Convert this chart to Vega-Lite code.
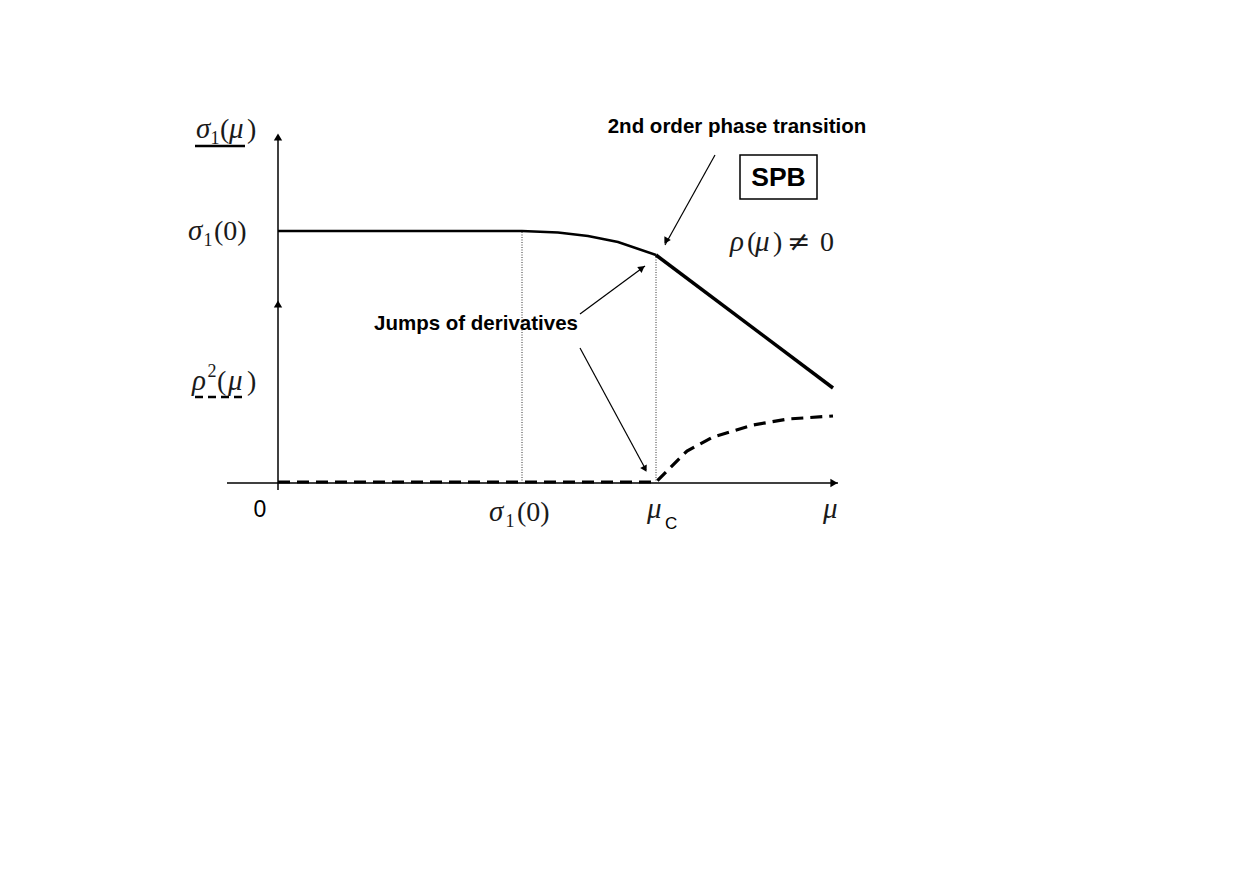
{
  "$schema": "https://vega.github.io/schema/vega-lite/v6.json",
  "width": 1246,
  "height": 881,
  "autosize": {"type": "fit", "contains": "padding"},
  "padding": 0,
  "background": "white",
  "config": {"view": {"stroke": null}},
  "datasets": {
    "axes": [
      {"x": -0.51, "x2": 5.6, "y": 0, "y2": 0},
      {"x": 0, "x2": 0, "y": -0.07, "y2": 3.47}
    ],
    "underline": [
      {"x": -0.83, "x2": -0.33, "y": 3.37, "kind": "solid"},
      {"x": -0.83, "x2": -0.33, "y": 0.86, "kind": "dashed"}
    ],
    "vlines": [
      {"x": 2.44, "y": 0, "y2": 2.52},
      {"x": 3.78, "y": 0, "y2": 2.28}
    ],
    "sigma": [
      {"mu": 0, "v": 2.52, "seg": "a"},
      {"mu": 2.44, "v": 2.52, "seg": "a"},
      {"mu": 2.8, "v": 2.505, "seg": "a"},
      {"mu": 3.1, "v": 2.47, "seg": "a"},
      {"mu": 3.4, "v": 2.41, "seg": "a"},
      {"mu": 3.78, "v": 2.28, "seg": "a"},
      {"mu": 3.78, "v": 2.28, "seg": "b"},
      {"mu": 5.55, "v": 0.95, "seg": "b"}
    ],
    "rho": [
      {"mu": 0, "v": 0.01},
      {"mu": 3.78, "v": 0.01},
      {"mu": 3.9, "v": 0.13},
      {"mu": 4.09, "v": 0.32},
      {"mu": 4.35, "v": 0.46},
      {"mu": 4.75, "v": 0.58},
      {"mu": 5.1, "v": 0.64},
      {"mu": 5.55, "v": 0.67}
    ],
    "arrows": [
      {"x": 4.37, "y": 3.28, "x2": 3.87, "y2": 2.38},
      {"x": 3.02, "y": 1.69, "x2": 3.67, "y2": 2.17},
      {"x": 3.02, "y": 1.35, "x2": 3.68, "y2": 0.13}
    ],
    "greek": [
      {"x": -0.82, "y": 3.45, "t": "σ"},
      {"x": -0.49, "y": 3.45, "t": "μ"},
      {"x": -0.9, "y": 2.43, "t": "σ"},
      {"x": -0.86, "y": 0.93, "t": "ρ"},
      {"x": -0.5, "y": 0.93, "t": "μ"},
      {"x": 2.11, "y": -0.38, "t": "σ"},
      {"x": 5.45, "y": -0.35, "t": "μ"},
      {"x": 3.69, "y": -0.35, "t": "μ"},
      {"x": 4.52, "y": 2.32, "t": "ρ"},
      {"x": 4.77, "y": 2.32, "t": "μ"}
    ],
    "plain": [
      {"x": -0.58, "y": 3.45, "t": "("},
      {"x": -0.31, "y": 3.45, "t": ")"},
      {"x": -0.64, "y": 2.43, "t": "(0)"},
      {"x": -0.61, "y": 0.93, "t": "("},
      {"x": -0.31, "y": 0.93, "t": ")"},
      {"x": 2.39, "y": -0.38, "t": "(0)"},
      {"x": 4.69, "y": 2.32, "t": "("},
      {"x": 4.95, "y": 2.32, "t": ")"},
      {"x": 5.42, "y": 2.32, "t": "0"}
    ],
    "neq": [
      {"x": 5.09, "y": 2.32, "t": "≠"}
    ],
    "small": [
      {"x": -0.675, "y": 3.39, "t": "1"},
      {"x": -0.745, "y": 2.37, "t": "1"},
      {"x": 2.275, "y": -0.44, "t": "1"},
      {"x": -0.705, "y": 1.06, "t": "2"}
    ],
    "zero": [
      {"x": -0.18, "y": -0.27, "t": "0"}
    ],
    "sub": [
      {"x": 3.87, "y": -0.46, "t": "C"}
    ],
    "bold": [
      {"x": 4.59, "y": 3.56, "t": "2nd order phase transition"},
      {"x": 1.98, "y": 1.59, "t": "Jumps of derivatives"}
    ],
    "box": [
      {"x": 4.62, "x2": 5.39, "y": 3.28, "y2": 2.84, "t": "SPB", "cx": 5.005, "cy": 3.05}
    ]
  },
  "encoding": {
    "x": {"type": "quantitative", "scale": {"domain": [-2.78, 9.68], "nice": false, "zero": false}, "axis": null},
    "y": {"type": "quantitative", "scale": {"domain": [-3.98, 4.83], "nice": false, "zero": false}, "axis": null}
  },
  "layer": [
    {
      "data": {"name": "axes"},
      "mark": {"type": "rule", "color": "black", "strokeWidth": 1.5},
      "encoding": {"x": {"field": "x"}, "x2": {"field": "x2"}, "y": {"field": "y"}, "y2": {"field": "y2"}}
    },
    {
      "data": {"values": [{"x": 5.56, "y": 0}]},
      "mark": {"type": "point", "shape": "triangle-right", "filled": true, "color": "black", "size": 70, "opacity": 1},
      "encoding": {"x": {"field": "x"}, "y": {"field": "y"}}
    },
    {
      "data": {"values": [{"x": 0, "y": 3.46}, {"x": 0, "y": 1.79}]},
      "mark": {"type": "point", "shape": "triangle-up", "filled": true, "color": "black", "size": 70, "opacity": 1},
      "encoding": {"x": {"field": "x"}, "y": {"field": "y"}}
    },
    {
      "data": {"name": "vlines"},
      "mark": {"type": "rule", "color": "#333333", "strokeWidth": 1, "strokeDash": [1, 1.5]},
      "encoding": {"x": {"field": "x"}, "y": {"field": "y"}, "y2": {"field": "y2"}}
    },
    {
      "data": {"name": "sigma"},
      "transform": [{"filter": "datum.seg === 'a'"}],
      "mark": {"type": "line", "color": "black", "strokeWidth": 2.5},
      "encoding": {"x": {"field": "mu"}, "y": {"field": "v"}}
    },
    {
      "data": {"name": "sigma"},
      "transform": [{"filter": "datum.seg === 'b'"}],
      "mark": {"type": "line", "color": "black", "strokeWidth": 3.5},
      "encoding": {"x": {"field": "mu"}, "y": {"field": "v"}}
    },
    {
      "data": {"name": "rho"},
      "mark": {"type": "line", "color": "black", "strokeWidth": 3.2, "strokeDash": [12, 7]},
      "encoding": {"x": {"field": "mu"}, "y": {"field": "v"}}
    },
    {
      "data": {"name": "underline"},
      "transform": [{"filter": "datum.kind === 'solid'"}],
      "mark": {"type": "rule", "color": "black", "strokeWidth": 2.5},
      "encoding": {"x": {"field": "x"}, "x2": {"field": "x2"}, "y": {"field": "y"}}
    },
    {
      "data": {"name": "underline"},
      "transform": [{"filter": "datum.kind === 'dashed'"}],
      "mark": {"type": "rule", "color": "black", "strokeWidth": 2.5, "strokeDash": [8, 5]},
      "encoding": {"x": {"field": "x"}, "x2": {"field": "x2"}, "y": {"field": "y"}}
    },
    {
      "data": {"name": "arrows"},
      "mark": {"type": "rule", "color": "black", "strokeWidth": 1.2},
      "encoding": {"x": {"field": "x"}, "x2": {"field": "x2"}, "y": {"field": "y"}, "y2": {"field": "y2"}}
    },
    {
      "data": {"values": [{"x": 3.88, "y": 2.42}]},
      "mark": {"type": "point", "shape": "triangle-up", "filled": true, "color": "black", "size": 55, "opacity": 1, "angle": 210},
      "encoding": {"x": {"field": "x"}, "y": {"field": "y"}}
    },
    {
      "data": {"values": [{"x": 3.64, "y": 2.15}]},
      "mark": {"type": "point", "shape": "triangle-up", "filled": true, "color": "black", "size": 55, "opacity": 1, "angle": 54},
      "encoding": {"x": {"field": "x"}, "y": {"field": "y"}}
    },
    {
      "data": {"values": [{"x": 3.67, "y": 0.14}]},
      "mark": {"type": "point", "shape": "triangle-up", "filled": true, "color": "black", "size": 55, "opacity": 1, "angle": 152},
      "encoding": {"x": {"field": "x"}, "y": {"field": "y"}}
    },
    {
      "data": {"name": "greek"},
      "mark": {"type": "text", "font": "Liberation Serif", "fontStyle": "italic", "fontSize": 29, "color": "#1a1a1a", "align": "left", "baseline": "alphabetic"},
      "encoding": {"x": {"field": "x"}, "y": {"field": "y"}, "text": {"field": "t"}}
    },
    {
      "data": {"name": "plain"},
      "mark": {"type": "text", "font": "Liberation Serif", "fontSize": 28, "color": "#1a1a1a", "align": "left", "baseline": "alphabetic"},
      "encoding": {"x": {"field": "x"}, "y": {"field": "y"}, "text": {"field": "t"}}
    },
    {
      "data": {"name": "neq"},
      "mark": {"type": "text", "font": "DejaVu Serif", "fontSize": 28, "color": "#1a1a1a", "align": "left", "baseline": "alphabetic"},
      "encoding": {"x": {"field": "x"}, "y": {"field": "y"}, "text": {"field": "t"}}
    },
    {
      "data": {"name": "small"},
      "mark": {"type": "text", "font": "Liberation Serif", "fontSize": 18, "color": "#1a1a1a", "align": "left", "baseline": "alphabetic"},
      "encoding": {"x": {"field": "x"}, "y": {"field": "y"}, "text": {"field": "t"}}
    },
    {
      "data": {"name": "zero"},
      "mark": {"type": "text", "font": "Liberation Sans", "fontSize": 23, "color": "black", "align": "center", "baseline": "middle"},
      "encoding": {"x": {"field": "x"}, "y": {"field": "y"}, "text": {"field": "t"}}
    },
    {
      "data": {"name": "sub"},
      "mark": {"type": "text", "font": "Liberation Sans", "fontSize": 17, "color": "black", "align": "left", "baseline": "alphabetic"},
      "encoding": {"x": {"field": "x"}, "y": {"field": "y"}, "text": {"field": "t"}}
    },
    {
      "data": {"name": "bold"},
      "mark": {"type": "text", "font": "Liberation Sans", "fontWeight": "bold", "fontSize": 20.5, "color": "black", "align": "center", "baseline": "middle"},
      "encoding": {"x": {"field": "x"}, "y": {"field": "y"}, "text": {"field": "t"}}
    },
    {
      "data": {"name": "box"},
      "mark": {"type": "rect", "fill": null, "fillOpacity": 0, "stroke": "black", "strokeWidth": 1.5},
      "encoding": {"x": {"field": "x"}, "x2": {"field": "x2"}, "y": {"field": "y"}, "y2": {"field": "y2"}}
    },
    {
      "data": {"name": "box"},
      "mark": {"type": "text", "font": "Liberation Sans", "fontWeight": "bold", "fontSize": 26.5, "color": "black", "align": "center", "baseline": "middle"},
      "encoding": {"x": {"field": "cx"}, "y": {"field": "cy"}, "text": {"field": "t"}}
    }
  ]
}
